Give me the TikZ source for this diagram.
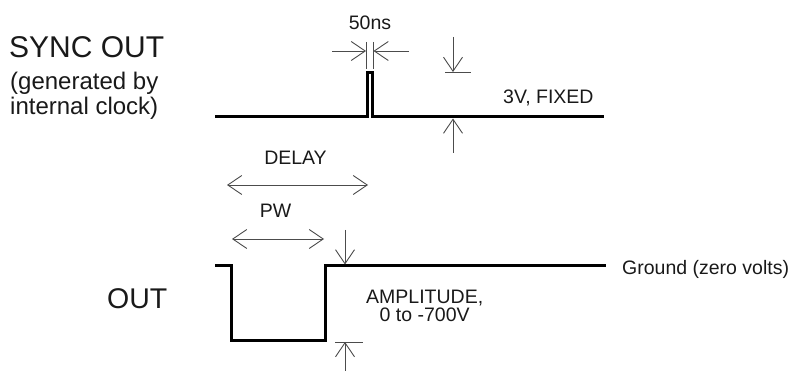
\documentclass[tikz,border=0pt]{standalone}
\usepackage{fontspec}
\setmainfont{Liberation Sans}
\usetikzlibrary{arrows.meta}
\begin{document}
\begin{tikzpicture}[x=1pt,y=-1pt,
  wave/.style={line width=3pt, line join=miter, black},
  dim/.style={line width=0.9pt, black!70},
  barb/.tip={Straight Barb[length=14pt,width=19pt,line width=0.9pt]},
  dimarrow/.style={dim, -barb},
  dimboth/.style={dim, barb-barb},
  lbl/.style={font=\fontsize{19.5}{22}\selectfont, inner sep=0pt, text=black!90},
  big/.style={font=\fontsize{30}{34}\selectfont, inner sep=0pt, text=black!90},
  sub/.style={font=\fontsize{24}{25}\selectfont, inner sep=0pt, text=black!90},
]
\useasboundingbox (0,0) rectangle (792,371);

% ---- SYNC OUT waveform ----
\coordinate (s0) at (215,117);
\coordinate (s1) at (367,117);
\coordinate (s2) at (367,73);
\coordinate (s3) at (372,73);
\coordinate (s4) at (372,117);
\coordinate (s5) at (604,117);
\draw[wave] (s0) -- (s1) -- (s2) -- (s3) -- (s4) -- (s5);

% 50ns dimension
\coordinate (e1a) at (366,42);  \coordinate (e1b) at (366,69);
\coordinate (e2a) at (373.5,42); \coordinate (e2b) at (373.5,69);
\draw[dim] (e1a) -- (e1b);
\draw[dim] (e2a) -- (e2b);
\coordinate (n1) at (332,51); \coordinate (n1t) at (366,51);
\coordinate (n2) at (409,51); \coordinate (n2t) at (373.5,51);
\draw[dimarrow] (n1) -- (n1t);
\draw[dimarrow] (n2) -- (n2t);
\node[lbl, anchor=base] (t50) at (370,30) {50ns};

% 3V fixed dimension
\coordinate (v1) at (453,37); \coordinate (v1t) at (453,72);
\coordinate (k1) at (445,72); \coordinate (k2) at (471,72);
\coordinate (v2) at (453,153); \coordinate (v2t) at (453,118.5);
\draw[dimarrow] (v1) -- (v1t);
\draw[dim] (k1) -- (k2);
\draw[dimarrow] (v2) -- (v2t);
\node[lbl, anchor=base west] (t3v) at (503,104) {3V, FIXED};

% labels left
\node[big, anchor=base west] (tsync) at (9,58) {SYNC OUT};
\node[sub, anchor=base west] (tgen) at (10,90) {(generated by};
\node[sub, anchor=base west] (tint) at (10,115) {internal clock)};

% DELAY and PW
\coordinate (d1) at (227,185); \coordinate (d2) at (368,185);
\draw[dimboth] (d1) -- (d2);
\node[lbl, anchor=base] (tdelay) at (295.5,165) {DELAY};
\coordinate (p1) at (232,239); \coordinate (p2) at (324,239);
\draw[dimboth] (p1) -- (p2);
\node[lbl, anchor=base] (tpw) at (275.5,218) {PW};

% ---- OUT waveform ----
\coordinate (o0) at (215,266);
\coordinate (o1) at (231,266);
\coordinate (o2) at (231,340);
\coordinate (o3) at (325,340);
\coordinate (o4) at (325,266);
\coordinate (o5) at (606,266);
\draw[wave] (o0) -- (o1) -- (o2) -- (o3) -- (o4) -- (o5);
\node[big, font=\fontsize{28.5}{32}\selectfont, anchor=base west] (tout) at (107,308) {OUT};
\node[lbl, anchor=base west] (tgnd) at (622,275) {Ground (zero volts)};

% amplitude dimension
\coordinate (a1) at (345,230); \coordinate (a1t) at (345,264.5);
\coordinate (a2) at (345,371); \coordinate (a2t) at (345,342);
\coordinate (m1) at (335,342); \coordinate (m2) at (363,342);
\draw[dimarrow] (a1) -- (a1t);
\draw[dimarrow] (a2) -- (a2t);
\draw[dim] (m1) -- (m2);
\node[lbl, anchor=base west] (tamp) at (366,303) {AMPLITUDE,};
\node[lbl, anchor=base] (trange) at ([yshift=-18pt]tamp.base) {0 to -700V};
\end{tikzpicture}
\end{document}
